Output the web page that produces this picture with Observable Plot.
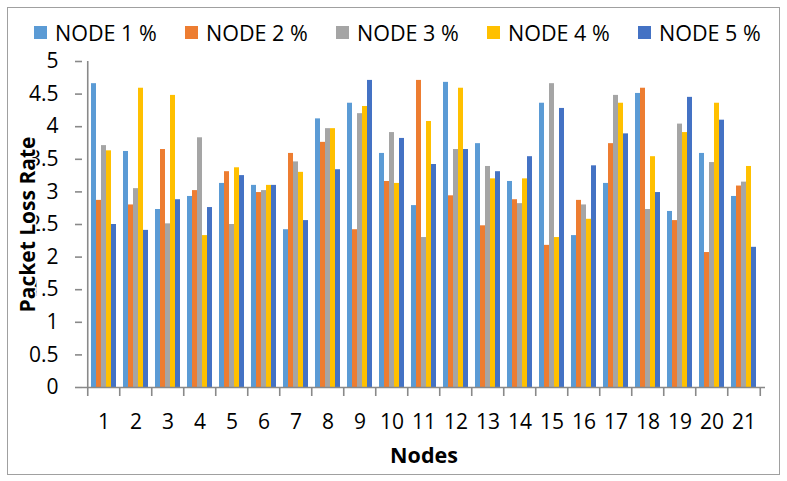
<!DOCTYPE html>
<html>
<head>
<meta charset="utf-8">
<script src="https://cdn.jsdelivr.net/npm/d3@7"></script>
<script src="https://cdn.jsdelivr.net/npm/@observablehq/plot@0.6"></script>
<style>
  html, body { margin: 0; padding: 0; background: #fff; }
  #wrap { position: relative; width: 787px; height: 481px; font-family: "Open Sans", sans-serif; }
  #border { position: absolute; left: 7px; top: 7px; width: 771px; height: 466px; border: 1px solid #a0a0a0; pointer-events: none; }
  #legend { position: absolute; left: 34px; top: 19px; height: 26px; display: flex; }
  .item { width: 151px; display: flex; align-items: center; font-size: 21.5px; color: #000; white-space: nowrap; }
  .sw { width: 13px; height: 13px; margin-right: 8px; flex: none; }
  svg { position: absolute; left: 0; top: 0; }
</style>
</head>
<body>
<div id="wrap"><div id="chart"></div><div id="legend"></div><div id="border"></div></div>
<script>
const nodes = ["1","2","3","4","5","6","7","8","9","10","11","12","13","14","15","16","17","18","19","20","21"];
const seriesNames = ["NODE 1 %","NODE 2 %","NODE 3 %","NODE 4 %","NODE 5 %"];
const colors = ["#5B9BD5","#ED7D31","#A5A5A5","#FFC000","#4472C4"];
const node1 = [4.66,3.62,2.73,2.93,3.13,3.10,2.42,4.12,4.36,3.59,2.79,4.68,3.74,3.16,4.36,2.33,3.13,4.51,2.70,3.59,2.93];
const node2 = [2.87,2.80,3.65,3.02,3.31,2.99,3.59,3.76,2.42,3.16,4.71,2.94,2.48,2.88,2.18,2.87,3.74,4.59,2.56,2.07,3.09];
const node3 = [3.71,3.05,2.51,3.83,2.50,3.02,3.46,3.97,4.20,3.91,2.30,3.65,3.39,2.82,4.66,2.80,4.48,2.73,4.04,3.45,3.15];
const node4 = [3.63,4.59,4.48,2.33,3.37,3.10,3.30,3.97,4.31,3.13,4.08,4.59,3.20,3.20,2.30,2.58,4.36,3.54,3.91,4.36,3.39];
const node5 = [2.50,2.41,2.88,2.76,3.25,3.10,2.56,3.34,4.71,3.82,3.42,3.65,3.31,3.54,4.28,3.40,3.89,2.99,4.45,4.10,2.15];
const yTicks = [0,0.5,1,1.5,2,2.5,3,3.5,4,4.5,5];
const series = [node1,node2,node3,node4,node5];

const W = 787, H = 481, mL = 82, mR = 22, mT = 61, mB = 94;
const padIn = 0.231;
const step = (W - mL - mR) / nodes.length;
const bw = step * (1 - padIn) / series.length;
const gray = "#898989";

const barMarks = series.map((vals, i) =>
  Plot.barY(nodes, {x: d => d, y: (d, j) => vals[j], fill: colors[i],
    insetLeft: bw * i, insetRight: bw * (series.length - 1 - i)}));

const chart = Plot.plot({
  width: W, height: H,
  marginLeft: mL, marginRight: mR, marginTop: mT, marginBottom: mB,
  style: {fontFamily: "Open Sans, sans-serif", background: "transparent"},
  x: {domain: nodes, paddingInner: padIn, paddingOuter: padIn / 2},
  y: {domain: [yTicks[0], yTicks[yTicks.length - 1]]},
  marks: [
    ...barMarks,
    Plot.ruleY([yTicks[0]], {stroke: gray, strokeWidth: 1.6}),
    Plot.ruleX([nodes[0]], {x: d => d, y1: yTicks[0], y2: yTicks[yTicks.length - 1], dx: -step / 2, stroke: gray, strokeWidth: 1.6}),
    Plot.axisY({ticks: yTicks, tickSize: 7, tickPadding: 17, tickFormat: d => String(d), fontSize: 21, stroke: gray, strokeWidth: 1.6, fill: "#000", label: null}),
    Plot.axisX({tickSize: 0, tickPadding: 27, fontSize: 21, fill: "#000", label: null}),
    Plot.axisX({tickSize: 9, tickFormat: () => "", dx: -step / 2, stroke: gray, strokeWidth: 1.6, label: null}),
    Plot.axisX({ticks: [nodes[nodes.length - 1]], tickSize: 9, tickFormat: () => "", dx: step / 2, stroke: gray, strokeWidth: 1.6, label: null}),
    Plot.text(["Packet Loss Rate"], {frameAnchor: "left", textAnchor: "middle", lineAnchor: "middle", rotate: -90, dx: -54,
      fontSize: 21, fontWeight: "bold", fill: "#000", stroke: "#fff", strokeWidth: 3}),
    Plot.text(["Nodes"], {frameAnchor: "bottom", textAnchor: "middle", lineAnchor: "middle", dy: 69,
      fontSize: 21.5, fontWeight: "bold", fill: "#000"})
  ]
});
document.getElementById("chart").appendChild(chart);

const legend = document.getElementById("legend");
seriesNames.forEach((name, i) => {
  const it = document.createElement("div");
  it.className = "item";
  const sw = document.createElement("span");
  sw.className = "sw";
  sw.style.background = colors[i];
  it.appendChild(sw);
  it.appendChild(document.createTextNode(name));
  legend.appendChild(it);
});
</script>
</body>
</html>
